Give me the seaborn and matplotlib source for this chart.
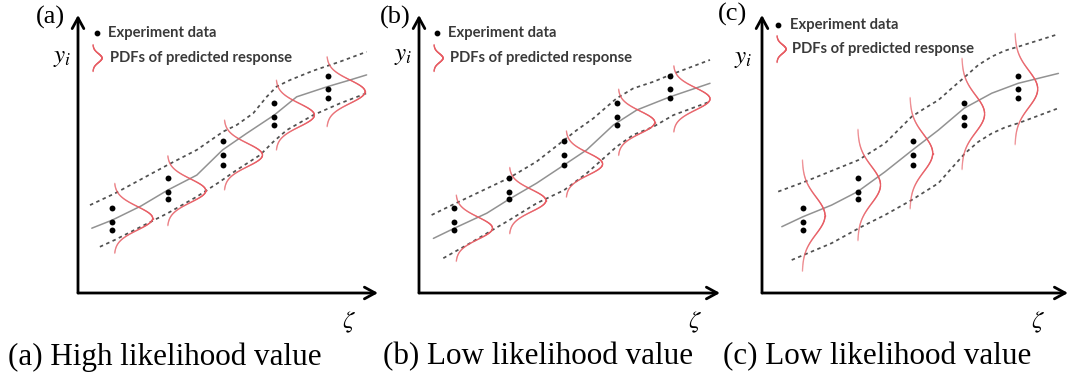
import numpy as np
import matplotlib
matplotlib.use("Agg")
import matplotlib.pyplot as plt
import seaborn as sns
from matplotlib.collections import LineCollection

# ---------------------------------------------------------------------------
# Data (ζ, y units; one unit = 30 px on screen)
# ---------------------------------------------------------------------------
# repeated measurements at five settings (identical in the three panels)
exp_y = [[2.83, 2.37, 2.10],
         [3.83, 3.37, 3.13],
         [5.07, 4.60, 4.27],
         [6.33, 5.87, 5.60],
         [7.23, 6.80, 6.50]]

zeta_a = [1.13, 3.00, 4.83, 6.53, 8.33]
zeta_b = [1.17, 3.00, 4.83, 6.60, 8.37]
zeta_c = [1.37, 3.20, 5.03, 6.73, 8.53]

# predicted mean response
mean_a_x = [0.46, 1.14, 2.10, 2.99, 3.96, 4.82, 5.62, 6.54, 7.29, 8.32, 9.00, 9.62]
mean_a_y = [2.16, 2.43, 2.90, 3.43, 3.93, 4.77, 5.32, 5.93, 6.54, 6.88, 7.08, 7.27]
mean_b_x = [0.48, 1.18, 2.26, 3.01, 3.92, 4.84, 5.59, 6.48, 7.26, 8.37, 9.70]
mean_b_y = [1.82, 2.16, 2.66, 3.13, 3.66, 4.27, 4.77, 5.60, 6.10, 6.54, 6.99]
mean_c_x = [0.66, 1.36, 2.32, 3.19, 4.10, 5.02, 5.88, 6.74, 7.66, 8.54, 9.88]
mean_c_y = [2.21, 2.54, 2.93, 3.38, 4.04, 4.77, 5.43, 6.16, 6.66, 6.99, 7.32]

# upper / lower prediction bounds
upper_a_x = [0.40, 1.23, 2.99, 3.96, 4.84, 5.29, 5.84, 6.29, 6.62, 7.07, 7.84, 8.73, 9.62]
upper_a_y = [2.93, 3.32, 4.27, 4.77, 5.38, 5.60, 5.99, 6.54, 6.88, 7.10, 7.41, 7.71, 8.04]
lower_a_x = [0.73, 1.23, 2.99, 3.96, 4.73, 5.29, 6.07, 6.51, 6.96, 7.84, 8.73, 9.62]
lower_a_y = [1.54, 1.77, 2.66, 3.21, 3.71, 4.10, 4.60, 5.04, 5.43, 5.93, 6.32, 6.66]

upper_b_x = [0.42, 1.18, 3.01, 3.92, 4.84, 5.26, 5.81, 6.26, 6.59, 7.14, 7.81, 8.37, 9.70]
upper_b_y = [2.60, 2.97, 3.84, 4.38, 5.10, 5.43, 5.82, 6.21, 6.49, 6.82, 7.04, 7.27, 7.77]
lower_b_x = [0.81, 1.70, 3.01, 3.92, 4.84, 5.59, 6.03, 6.59, 7.14, 7.81, 8.48, 9.70]
lower_b_y = [1.16, 1.66, 2.43, 2.99, 3.43, 3.99, 4.38, 4.88, 5.27, 5.54, 5.93, 6.38]

upper_c_x = [0.54, 1.43, 3.21, 4.10, 4.99, 5.43, 5.88, 6.32, 6.77, 7.21, 7.66, 8.10, 8.54, 9.88]
upper_c_y = [3.38, 3.71, 4.43, 4.99, 5.88, 6.16, 6.43, 6.82, 7.21, 7.60, 7.88, 8.08, 8.21, 8.63]
lower_c_x = [0.99, 2.32, 3.32, 4.10, 4.99, 5.88, 6.32, 6.77, 7.21, 7.66, 8.10, 8.54, 9.88]
lower_c_y = [1.10, 1.66, 2.21, 2.60, 3.10, 3.66, 4.16, 4.66, 5.04, 5.32, 5.52, 5.66, 6.16]

# predicted-response PDFs: base position, centre, spread, drawn height
pdf_a_base = [1.21, 2.98, 4.87, 6.60, 8.29]
pdf_a_mu = [2.49, 3.41, 4.60, 5.93, 6.71]
pdf_a_sigma, pdf_a_amp = 0.39, 1.28
pdf_b_base = [1.23, 3.01, 4.90, 6.64, 8.48]
pdf_b_mu = [2.16, 3.08, 4.30, 5.69, 6.47]
pdf_b_sigma, pdf_b_amp = 0.37, 1.22
pdf_c_base = [1.34, 3.19, 4.93, 6.66, 8.43]
pdf_c_mu = [2.58, 3.60, 4.66, 5.97, 6.80]
pdf_c_sigma, pdf_c_amp = 0.62, 0.76

panel_tags = ["(a)", "(b)", "(c)"]
captions = ["(a) High likelihood value", "(b) Low likelihood value",
            "(c) Low likelihood value"]
legend_labels = ["Experiment data", "PDFs of predicted response"]

# ---------------------------------------------------------------------------
sns.set_theme(style="white")
plt.rcParams["mathtext.fontset"] = "stix"
plt.rcParams["font.family"] = ["DejaVu Sans"]

W, H = 1072, 381
fig = plt.figure(figsize=(W / 100, H / 100), dpi=100)
fig.patch.set_facecolor("white")

# axes frames in pixels: left, right, bottom, top
frames = [(78, 378, 293, 15), (419, 720, 293, 15), (762, 1068, 293, 15)]
UNIT = 30.0

PDF_RGB = (0.91, 0.36, 0.39)


def draw_pdf(ax, base, mu, sigma, amp, lw=1.0):
    t = np.linspace(-3 * sigma, 3 * sigma, 160)
    g = np.exp(-0.5 * (t / sigma) ** 2)
    pts = np.column_stack([base + amp * g, mu + t]).reshape(-1, 1, 2)
    segs = np.concatenate([pts[:-1], pts[1:]], axis=1)
    gm = 0.5 * (g[:-1] + g[1:])
    alpha = 0.25 + 0.7 * np.sqrt(gm)
    cols = [(*PDF_RGB, a) for a in alpha]
    ax.add_collection(LineCollection(segs, colors=cols, linewidths=lw,
                                     zorder=2, capstyle="round"))


panels = [
    (zeta_a, mean_a_x, mean_a_y, upper_a_x, upper_a_y, lower_a_x, lower_a_y,
     pdf_a_base, pdf_a_mu, pdf_a_sigma, pdf_a_amp),
    (zeta_b, mean_b_x, mean_b_y, upper_b_x, upper_b_y, lower_b_x, lower_b_y,
     pdf_b_base, pdf_b_mu, pdf_b_sigma, pdf_b_amp),
    (zeta_c, mean_c_x, mean_c_y, upper_c_x, upper_c_y, lower_c_x, lower_c_y,
     pdf_c_base, pdf_c_mu, pdf_c_sigma, pdf_c_amp),
]

# legend placement (data units) and label positions per panel
legend_rows = [(8.67, 7.83), (8.67, 7.83), (8.93, 8.13)]
legend_x = [(0.63, 1.00, 1.07, 0.50), (0.60, 0.97, 1.03, 0.50),
            (0.53, 0.93, 1.00, 0.50)]
tag_pos = [(-0.93, 9.17), (-0.80, 9.20), (-0.97, 9.27)]
yi_pos = [(-0.53, 7.87), (-0.53, 7.93), (-0.63, 7.83)]
zeta_pos = [(9.03, -0.97), (9.20, -0.97), (9.20, -0.97)]
caption_x = [8, 383, 723]

for i, ((l, r, b, t), data) in enumerate(zip(frames, panels)):
    (zeta, mx, my, ux, uy, lx, ly, pbase, pmu, psig, pamp) = data
    ax = fig.add_axes([l / W, 1 - b / H, (r - l) / W, (b - t) / H])
    ax.set_xlim(0, (r - l) / UNIT)
    ax.set_ylim(0, (b - t) / UNIT)
    ax.set_axis_off()

    # bounds and mean curve
    for bx, by in ((ux, uy), (lx, ly)):
        sns.lineplot(x=bx, y=by, ax=ax, sort=False, estimator=None,
                     color="#505050", lw=1.25, linestyle=(0, (2.0, 2.0)),
                     zorder=1)
    sns.lineplot(x=mx, y=my, ax=ax, sort=False, estimator=None,
                 color="#929292", lw=1.1, zorder=1)

    # PDFs of predicted response
    for bx, mu in zip(pbase, pmu):
        draw_pdf(ax, bx, mu, psig, pamp)

    # experiment data
    px = [z for z, ys in zip(zeta, exp_y) for _ in ys]
    py = [y for ys in exp_y for y in ys]
    sns.scatterplot(x=px, y=py, ax=ax, color="black", s=18, linewidth=0,
                    zorder=3)

    # axis arrows
    arrow = dict(arrowstyle="->,head_length=0.55,head_width=0.3", lw=2.0,
                 color="black", shrinkA=0, shrinkB=0, mutation_scale=14)
    ax.annotate("", xy=(1, 0), xytext=(0, 0), xycoords="axes fraction",
                textcoords="axes fraction", arrowprops=arrow)
    ax.annotate("", xy=(0, 1), xytext=(0, 0), xycoords="axes fraction",
                textcoords="axes fraction", arrowprops=arrow)

    # legend
    dot_x, txt_x, txt2_x, glyph_x = legend_x[i]
    row1, row2 = legend_rows[i]
    ax.scatter([dot_x], [row1], s=10, color="black", clip_on=False, zorder=3)
    ax.text(txt_x, row1, legend_labels[0], family="Lato", weight="bold",
            fontsize=10.6, color="#3a3a3a", va="center", ha="left")
    ax.text(txt2_x, row2, legend_labels[1], family="Lato", weight="bold",
            fontsize=10.6, color="#3a3a3a", va="center", ha="left")
    draw_pdf(ax, glyph_x, row2, 0.15, 0.30, lw=1.0)

    # labels
    ax.text(*tag_pos[i], panel_tags[i], family="Liberation Serif",
            fontsize=19, color="black", ha="center", va="center")
    ax.text(*yi_pos[i], r"$y_i$", fontsize=18, color="black",
            ha="center", va="center")
    ax.text(*zeta_pos[i], r"$\zeta$", fontsize=18, color="black",
            ha="center", va="center")

    fig.text(caption_x[i] / W, 1 - 357 / H, captions[i],
             family="Liberation Serif", fontsize=22.4, color="black",
             ha="left", va="center")

fig.savefig("out.png", dpi=100, facecolor="white")
